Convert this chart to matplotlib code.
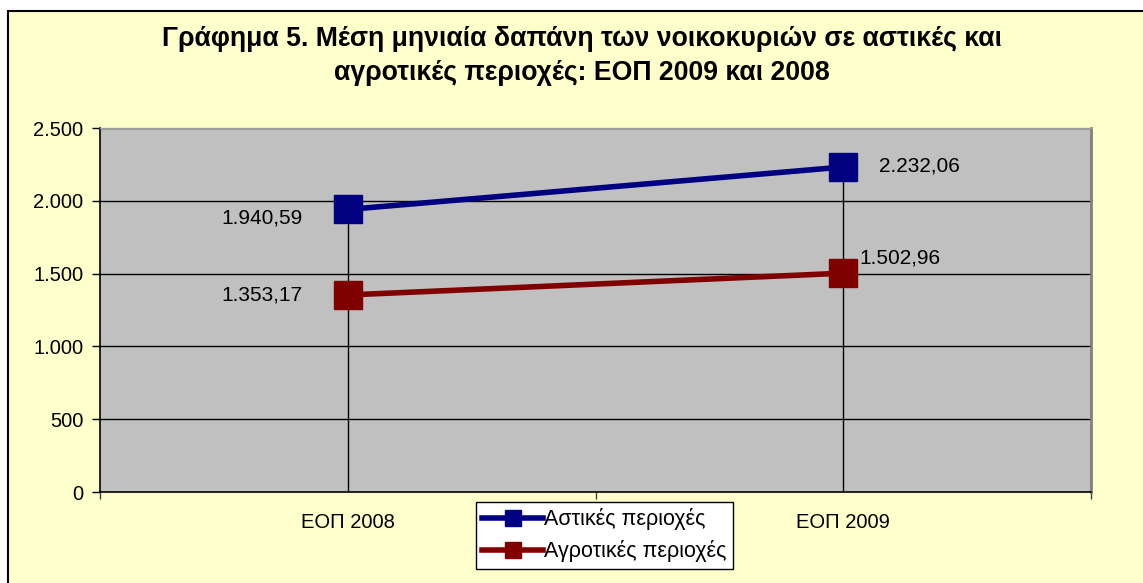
import matplotlib
matplotlib.use("Agg")
import matplotlib.pyplot as plt
from matplotlib.patches import Rectangle
from matplotlib.ticker import FixedLocator, FuncFormatter

plt.rcParams['font.family'] = ['Liberation Sans', 'DejaVu Sans']

categories = ["ΕΟΠ 2008", "ΕΟΠ 2009"]
series_names = ["Αστικές περιοχές", "Αγροτικές περιοχές"]
urban = [1940.59, 2232.06]
rural = [1353.17, 1502.96]
yticks = [0, 500, 1000, 1500, 2000, 2500]
title = "Γράφημα 5. Μέση μηνιαία δαπάνη των νοικοκυριών σε αστικές και\nαγροτικές περιοχές: ΕΟΠ 2009 και 2008"

W, H = 1143, 583
fig = plt.figure(figsize=(W / 100, H / 100), dpi=100, facecolor='white')

# outer chart frame
fig.patches.append(Rectangle((8 / W, -0.05), 1.2, (H - 11) / H + 0.05, transform=fig.transFigure,
                             facecolor='#FFFFCC', edgecolor='black', linewidth=1.5, zorder=-10))

ax = fig.add_axes([100 / W, 1 - 492 / H, (1091 - 100) / W, (492 - 128) / H])
ax.set_zorder(1)
ax.set_facecolor('#C0C0C0')
x = list(range(len(categories)))
ax.set_xlim(-0.5, len(categories) - 0.5)
ax.set_ylim(0, 2500)

for v in yticks[1:]:
    ax.axhline(v, color='black', linewidth=1, zorder=1)

# drop lines
for i in x:
    ax.vlines(i, 0, max(urban[i], rural[i]), color='black', linewidth=1, zorder=1)

ax.plot(x, urban, color='#000080', linewidth=4, marker='s', markersize=20,
        markerfacecolor='#000080', markeredgecolor='#000080', label=series_names[0], zorder=3)
ax.plot(x, rural, color='#800000', linewidth=4, marker='s', markersize=20,
        markerfacecolor='#800000', markeredgecolor='#800000', label=series_names[1], zorder=3)

def fmt(v):
    s = f"{v:,.2f}"
    return s.replace(',', 'X').replace('.', ',').replace('X', '.')

lab_fs = 15
ax.annotate(fmt(urban[0]), (x[0], urban[0]), xytext=(-62, -6), textcoords='offset points',
            ha='center', va='center', fontsize=lab_fs)
ax.annotate(fmt(rural[0]), (x[0], rural[0]), xytext=(-62, 0), textcoords='offset points',
            ha='center', va='center', fontsize=lab_fs)
ax.annotate(fmt(urban[1]), (x[1], urban[1]), xytext=(55, 1), textcoords='offset points',
            ha='center', va='center', fontsize=lab_fs)
ax.annotate(fmt(rural[1]), (x[1], rural[1]), xytext=(41, 11), textcoords='offset points',
            ha='center', va='center', fontsize=lab_fs)

ax.set_yticks(yticks)
ax.yaxis.set_major_formatter(FuncFormatter(lambda v, p: f"{int(v):,}".replace(',', '.')))
ax.set_xticks(x)
ax.set_xticklabels(categories)
ax.xaxis.set_major_locator(FixedLocator(x))
ax.xaxis.set_minor_locator(FixedLocator([-0.5, 0.5, 1.5]))
ax.tick_params(axis='x', which='major', length=0, labelsize=14.5, pad=15)
ax.tick_params(axis='x', which='minor', length=5, width=1, color='#404040')
ax.tick_params(axis='y', length=6, width=1, labelsize=14.5, pad=6)

for side in ['left', 'bottom']:
    ax.spines[side].set_color('black')
    ax.spines[side].set_linewidth(1.2)
ax.spines['right'].set_color('#808080')
ax.spines['right'].set_linewidth(2)
ax.spines['top'].set_color('#A0A0A0')
ax.spines['top'].set_linewidth(1)

leg = ax.legend(loc='upper left', bbox_to_anchor=((476 - 100) / 991, -10 / 364), fontsize=15.5,
                frameon=True, fancybox=False, edgecolor='black', facecolor='white', framealpha=1,
                markerscale=0.55, handlelength=2.8, handletextpad=0.05, borderpad=0.3,
                labelspacing=0.45, borderaxespad=0)
leg.get_frame().set_linewidth(1)

fig.text(582 / W, 1 - 55.5 / H, title, ha='center', va='center', fontsize=19.2, fontweight='bold',
         linespacing=1.4)

fig.savefig('out.png', dpi=100, facecolor='white')
